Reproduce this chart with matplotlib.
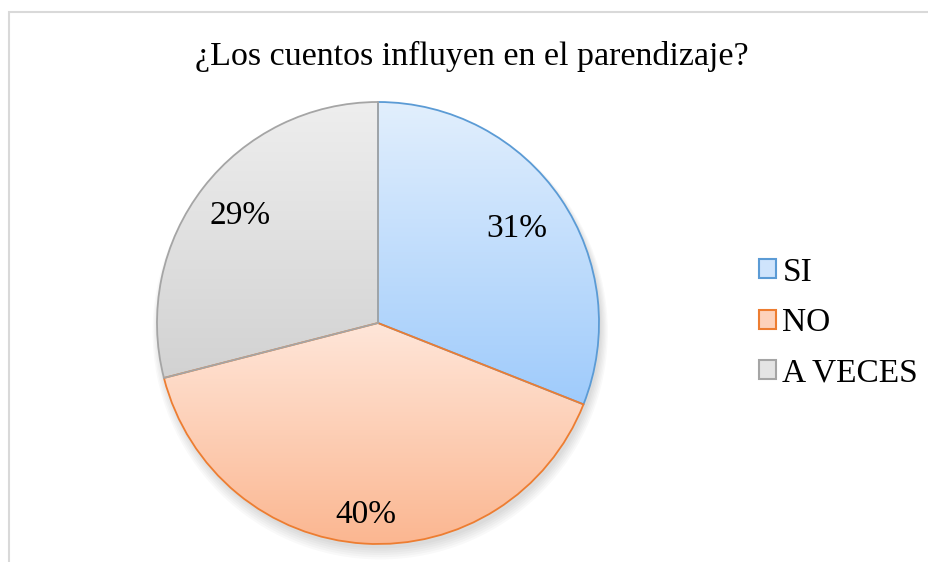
import numpy as np
import matplotlib.pyplot as plt
from matplotlib.patches import Patch, Rectangle
from matplotlib.colors import LinearSegmentedColormap

# Datos
categorias = ['SI', 'NO', 'A VECES']
valores = [31, 40, 29]
etiquetas = ['31%', '40%', '29%']

# Colores (degradado arriba -> abajo) y bordes
color_arriba = ['#e2effd', '#ffe6d9', '#eeeeee']
color_abajo = ['#9fcbfb', '#fbb690', '#d2d2d2']
color_leyenda = ['#cfe4fc', '#fdd2bb', '#e4e4e4']
color_borde = ['#5b9bd5', '#ed7d31', '#a5a5a5']
radio_etiqueta = [0.76, 0.87, 0.79]

plt.rcParams['font.family'] = ['Liberation Serif', 'DejaVu Serif']

fig = plt.figure(figsize=(9.29, 5.62), dpi=100)

# marco del grafico
fig.patches.append(Rectangle((9 / 929, -0.05), 1.0, 1 - 12 / 562 + 0.05,
                             transform=fig.transFigure, fill=False,
                             edgecolor='#d9d9d9', linewidth=1.5))

fig.text(472 / 929, 1 - 56 / 562, '¿Los cuentos influyen en el parendizaje?',
         ha='center', va='center', fontsize=24.5)

ax = fig.add_axes([157 / 929, 18 / 562, 442 / 929, 442 / 562])
ax.set_aspect('equal')
ax.axis('off')

# sombra suave
for i in range(6):
    sombra = plt.Circle((0.01, -0.02 - i * 0.004), 1.0 + i * 0.006,
                        color='black', alpha=0.025, zorder=0, linewidth=0,
                        clip_on=False)
    ax.add_patch(sombra)
ax.add_patch(plt.Circle((0, 0), 1.0, color='white', zorder=0.5, linewidth=0,
                        clip_on=False))

wedges, _ = ax.pie(valores, startangle=90, counterclock=False, radius=1.0,
                   wedgeprops=dict(linewidth=1.3, clip_on=False))

grad = np.linspace(0, 1, 256).reshape(-1, 1)
for i, w in enumerate(wedges):
    w.set_facecolor('none')
    w.set_edgecolor(color_borde[i])
    w.set_zorder(3)
    # caja del sector
    verts = w.get_path().vertices
    tr = w.get_patch_transform()
    pts = tr.transform(verts)
    x0, y0 = pts.min(axis=0)
    x1, y1 = pts.max(axis=0)
    cmap = LinearSegmentedColormap.from_list('g%d' % i, [color_arriba[i], color_abajo[i]])
    im = ax.imshow(grad, cmap=cmap, extent=[x0, x1, y0, y1], origin='upper',
                   aspect='auto', zorder=2, interpolation='bilinear')
    im.set_clip_path(w)

    ang = np.deg2rad((w.theta1 + w.theta2) / 2)
    r = radio_etiqueta[i]
    ax.text(r * np.cos(ang), r * np.sin(ang), etiquetas[i],
            ha='center', va='center', fontsize=24, zorder=5)

ax.set_xlim(-1.0, 1.0)
ax.set_ylim(-1.0, 1.0)

handles = [Patch(facecolor=color_leyenda[i], edgecolor=color_borde[i], linewidth=1.5)
           for i in range(3)]
fig.legend(handles, categorias, loc='center left',
           bbox_to_anchor=(759 / 929, 1 - 323 / 562), frameon=False,
           fontsize=24, handlelength=0.5, handleheight=0.5, handletextpad=0.2,
           labelspacing=0.6, borderpad=0, borderaxespad=0)

fig.savefig('out.png', dpi=100)
